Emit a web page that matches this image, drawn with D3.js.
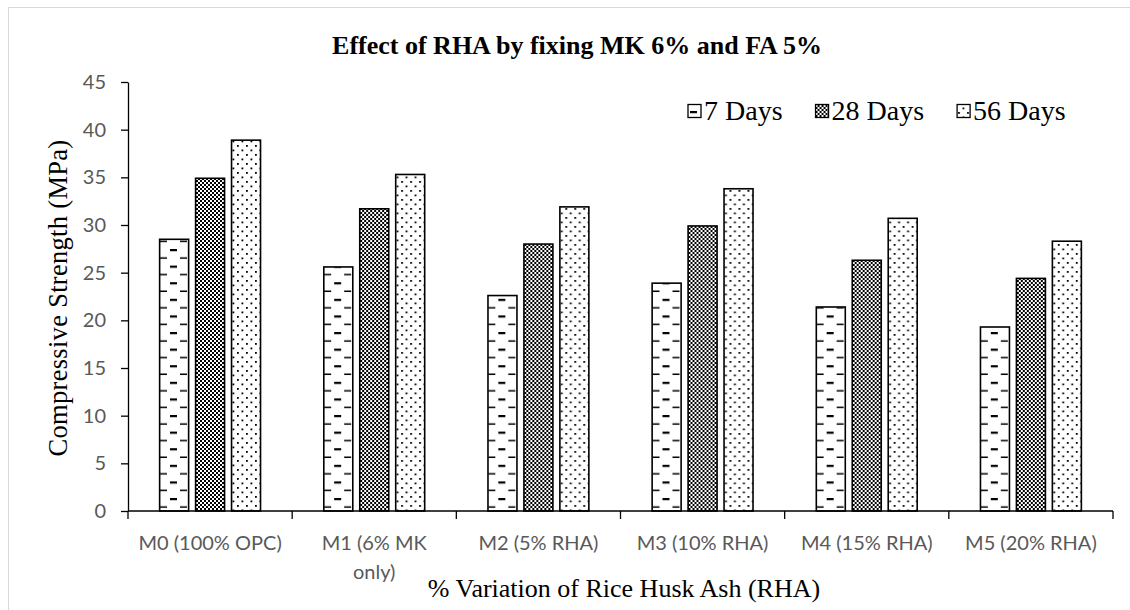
<!DOCTYPE html>
<html>
<head>
<meta charset="utf-8">
<script src="https://cdn.jsdelivr.net/npm/d3@7"></script>
<style>
body { margin: 0; background: #fff; }
</style>
</head>
<body>
<script>
categories = ["M0 (100% OPC)", "M1 (6% MK\nonly)", "M2 (5% RHA)", "M3 (10% RHA)", "M4 (15% RHA)", "M5 (20% RHA)"]
seriesNames = ["7 Days", "28 Days", "56 Days"]
days7 = [28.5, 25.6, 22.6, 23.9, 21.4, 19.3]
days28 = [34.9, 31.7, 28.0, 29.9, 26.3, 24.4]
days56 = [38.9, 35.3, 31.9, 33.8, 30.7, 28.3]
yTicks = [0, 5, 10, 15, 20, 25, 30, 35, 40, 45]

titleText = "Effect of RHA by fixing MK 6% and FA 5%"
yTitle = "Compressive Strength (MPa)"
xTitle = "% Variation of Rice Husk Ash (RHA)"

W = 1130
H = 610
plotLeft = 128
plotRight = 1113
plotTop = 82
plotBottom = 511

serif = "'Liberation Serif', 'Times New Roman', serif"
sans = "Lato, Calibri, 'Noto Sans', sans-serif"

function createSVG() {

        var rows = categories.map(function(c, i) {
                return { cat: c, values: [days7[i], days28[i], days56[i]] }
        })

        svg = d3.select("body").append("svg")
                .attr("width", W)
                .attr("height", H)

        var defs = svg.append("defs")

        // 7 days: dashed horizontal
        var p7 = defs.append("pattern").attr("id", "pat0")
                .attr("patternUnits", "userSpaceOnUse")
                .attr("width", 20).attr("height", 16.6)
        p7.append("rect").attr("width", 20).attr("height", 16.6).attr("fill", "#fff")
        p7.append("rect").attr("x", 2).attr("y", 0).attr("width", 7).attr("height", 2.2).attr("fill", "#000")
        p7.append("rect").attr("x", 12).attr("y", 8.3).attr("width", 7).attr("height", 1.5).attr("fill", "#000")

        // 28 days: small checkerboard
        var p28 = defs.append("pattern").attr("id", "pat1")
                .attr("patternUnits", "userSpaceOnUse")
                .attr("width", 4).attr("height", 4)
        p28.append("rect").attr("width", 4).attr("height", 4).attr("fill", "#fff")
        p28.append("rect").attr("x", 0).attr("y", 0).attr("width", 2).attr("height", 2).attr("fill", "#000")
        p28.append("rect").attr("x", 2).attr("y", 2).attr("width", 2).attr("height", 2).attr("fill", "#000")

        // 56 days: sparse dots
        var p56 = defs.append("pattern").attr("id", "pat2")
                .attr("patternUnits", "userSpaceOnUse")
                .attr("width", 9).attr("height", 9)
        p56.append("rect").attr("width", 9).attr("height", 9).attr("fill", "#fff")
        p56.append("rect").attr("x", 1).attr("y", 1).attr("width", 1.8).attr("height", 1.8).attr("fill", "#000")
        p56.append("rect").attr("x", 5.5).attr("y", 5.5).attr("width", 1.8).attr("height", 1.8).attr("fill", "#000")

        // outer frame
        svg.append("rect")
                .attr("x", 8.5).attr("y", 7.5)
                .attr("width", W).attr("height", H)
                .attr("fill", "none")
                .attr("stroke", "#d9d9d9")
                .attr("stroke-width", 1)

        x0 = d3.scaleBand().domain(categories).range([plotLeft, plotRight]).padding(0)
        x1 = d3.scaleBand().domain(seriesNames).range([0, x0.bandwidth()])
                .paddingInner(0.194).paddingOuter(0.88)
        y = d3.scaleLinear().domain([0, 45]).range([plotBottom, plotTop])

        // y axis
        var yAxis = svg.append("g")
                .attr("transform", "translate(" + plotLeft + ",0)")
                .call(d3.axisLeft(y).tickValues(yTicks).tickSize(7).tickSizeOuter(0).tickPadding(15))
        yAxis.select(".domain").attr("stroke", "#000").attr("stroke-width", 1.3)
        yAxis.selectAll(".tick line").attr("stroke", "#000").attr("stroke-width", 1.3)
        yAxis.selectAll(".tick text")
                .attr("fill", "#595959")
                .style("font-family", sans)
                .style("font-size", "20px")

        // bars
        var groups = svg.append("g").selectAll("g").data(rows)
                .enter().append("g")
                .attr("transform", function(d) {
                        return "translate(" + x0(d.cat) + ",0)"
                })

        groups.selectAll("rect").data(function(d) {
                return d.values.map(function(v, i) {
                        return { name: seriesNames[i], idx: i, value: v }
                })
        })
                .enter().append("rect")
                .attr("x", function(d) { return x1(d.name) })
                .attr("y", function(d) { return y(d.value) })
                .attr("width", x1.bandwidth())
                .attr("height", function(d) { return y(0) - y(d.value) })
                .attr("fill", function(d) { return "url(#pat" + d.idx + ")" })
                .attr("stroke", "#000")
                .attr("stroke-width", 1.6)

        // x axis baseline and boundary ticks
        var bounds = categories.map(function(c) { return x0(c) }).concat([plotRight])
        var xAxis = svg.append("g")
        xAxis.append("line")
                .attr("x1", plotLeft).attr("x2", plotRight)
                .attr("y1", y(0)).attr("y2", y(0))
                .attr("stroke", "#000").attr("stroke-width", 1.6)
        xAxis.selectAll("line.tk").data(bounds)
                .enter().append("line")
                .attr("class", "tk")
                .attr("x1", function(d) { return d }).attr("x2", function(d) { return d })
                .attr("y1", y(0)).attr("y2", y(0) + 8)
                .attr("stroke", "#000").attr("stroke-width", 1.3)

        var labels = xAxis.selectAll("text").data(categories)
                .enter().append("text")
                .attr("x", function(d) { return x0(d) + x0.bandwidth() / 2 })
                .attr("y", y(0) + 39)
                .attr("text-anchor", "middle")
                .attr("fill", "#595959")
                .style("font-family", sans)
                .style("font-size", "20px")
        labels.selectAll("tspan").data(function(d) { return d.split("\n") })
                .enter().append("tspan")
                .attr("x", function() { return this.parentNode.getAttribute("x") })
                .attr("dy", function(d, i) { return i == 0 ? 0 : 29 })
                .text(function(d) { return d })

        // titles
        svg.append("text")
                .attr("x", 577).attr("y", 54)
                .attr("text-anchor", "middle")
                .style("font-family", serif)
                .style("font-weight", "bold")
                .style("font-size", "26px")
                .text(titleText)

        svg.append("text")
                .attr("transform", "translate(67,298) rotate(-90)")
                .attr("text-anchor", "middle")
                .style("font-family", serif)
                .style("font-size", "26.5px")
                .style("letter-spacing", "0.3px")
                .text(yTitle)

        svg.append("text")
                .attr("x", 624).attr("y", 597)
                .attr("text-anchor", "middle")
                .style("font-family", serif)
                .style("font-size", "26px")
                .text(xTitle)

        // legend, laid out left to right
        var legend = svg.append("g")
        var items = legend.selectAll("g").data(seriesNames)
                .enter().append("g")
        items.append("rect")
                .attr("width", 13).attr("height", 13)
                .attr("y", -6.5)
                .attr("fill", function(d, i) { return "url(#pat" + i + ")" })
                .attr("stroke", "#000")
                .attr("stroke-width", 1.3)
        items.append("text")
                .attr("x", 16)
                .attr("y", 9)
                .style("font-family", serif)
                .style("font-size", "28px")
                .text(function(d) { return d })

        var pos = 688
        items.each(function(d) {
                var w = d3.select(this).select("text").node().getComputedTextLength()
                d3.select(this).attr("transform", "translate(" + pos + ",111)")
                pos += 16 + w + 33
        })
}

createSVG()
</script>
</body>
</html>
